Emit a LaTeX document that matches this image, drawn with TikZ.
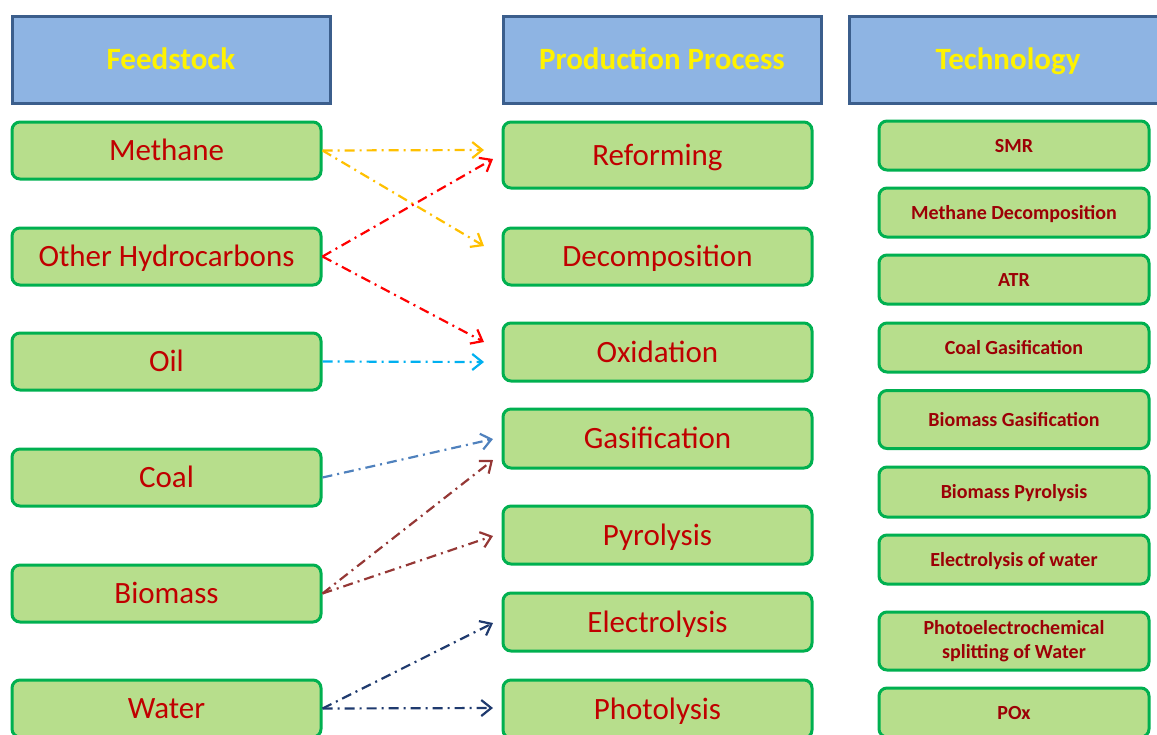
\documentclass[tikz,border=0pt]{standalone}
\usepackage{fontspec}
\setmainfont{Carlito}
\usetikzlibrary{arrows.meta}
\definecolor{hdrfill}{HTML}{8EB4E3}
\definecolor{hdrline}{HTML}{3B5E8C}
\definecolor{boxfill}{HTML}{B7DE8C}
\definecolor{boxline}{HTML}{00B050}
\definecolor{txtred}{HTML}{C00000}
\definecolor{techred}{HTML}{9C0006}
\definecolor{arrorange}{HTML}{FFC000}
\definecolor{arrred}{HTML}{FF0000}
\definecolor{arrcyan}{HTML}{00B0F0}
\definecolor{arrsteel}{HTML}{4F81BD}
\definecolor{arrbrown}{HTML}{953735}
\definecolor{arrnavy}{HTML}{1F3A6E}
\tikzset{
  header/.style={draw=hdrline, fill=hdrfill, line width=3pt, inner sep=0pt,
    minimum width=318pt, minimum height=87pt, text height=20pt, text depth=0pt,
    text=yellow, font=\fontsize{31}{36}\selectfont\bfseries},
  srcbox/.style={draw=boxline, fill=boxfill, line width=3pt, rounded corners=8pt,
    inner sep=0pt, minimum width=309pt, minimum height=57pt,
    text height=20pt, text depth=0pt,
    text=txtred, font=\fontsize{31}{36}\selectfont},
  techbox/.style={draw=boxline, fill=boxfill, line width=3pt, rounded corners=8pt,
    inner sep=0pt, minimum width=270pt, minimum height=49pt, align=center,
    text=techred, font=\fontsize{20}{24.5}\selectfont\bfseries},
  techline/.style={text height=13pt, text depth=0pt},
  link/.style={line width=2.2pt, dash pattern=on 10pt off 5pt on 2pt off 5pt,
    -{Straight Barb[length=10pt,width=16pt,line width=2.2pt]}},
}
\begin{document}
\begin{tikzpicture}[x=1pt,y=-1pt]
\useasboundingbox (0,0) rectangle (1157,734);
\clip (0,0) rectangle (1157,734);

% column headers
\node[header] (hfeed) at (171,59.5) {Feedstock};
\node[header] (hproc) at (662,59.5) {Production Process};
\node[header] (htech) at (1008,59.5) {Technology};

% feedstocks
\node[srcbox] (methane) at (166.5,150.5) {Methane};
\node[srcbox] (hydro)   at (166.5,256.5) {Other Hydrocarbons};
\node[srcbox] (oil)     at (166.5,361.5) {Oil};
\node[srcbox] (coal)    at (166.5,477.5) {Coal};
\node[srcbox] (biomass) at (166.5,593.5) {Biomass};
\node[srcbox] (water)   at (166.5,708.5) {Water};

% production processes
\node[srcbox, minimum height=66pt] (reform) at (657.5,155) {Reforming};
\node[srcbox] (decomp) at (657.5,256.5) {Decomposition};
\node[srcbox, minimum height=58pt] (oxid)   at (657.5,352) {Oxidation};
\node[srcbox, minimum height=59pt] (gasif)  at (657.5,438.5) {Gasification};
\node[srcbox, minimum height=58pt] (pyro)   at (657.5,535) {Pyrolysis};
\node[srcbox, minimum height=58pt] (elec)   at (657.5,622) {Electrolysis};
\node[srcbox, minimum height=58pt] (photo)  at (657.5,709) {Photolysis};

% technologies
\node[techbox, techline] (smr)   at (1014,145.5) {SMR};
\node[techbox, techline] (mdec)  at (1014,212.5) {Methane Decomposition};
\node[techbox, techline] (atr)   at (1014,279.5) {ATR};
\node[techbox, techline] (cgas)  at (1014,347.5) {Coal Gasification};
\node[techbox, techline, minimum height=58pt] (bgas)  at (1014,419.5) {Biomass Gasification};
\node[techbox, techline, minimum height=50pt] (bpyr)  at (1014,492) {Biomass Pyrolysis};
\node[techbox, techline] (ewat)  at (1014,559.5) {Electrolysis of water};
\node[techbox, minimum height=58pt] (pec)   at (1014,641) {Photoelectrochemical\\splitting of Water};
\node[techbox, techline] (pox)   at (1014,712.5) {POx};

% arrow tips in front of the process boxes
\coordinate (tRefA) at (484,150);
\coordinate (tRefB) at (493,159);
\coordinate (tDec)  at (484,246);
\coordinate (tOxA)  at (484,342);
\coordinate (tOxB)  at (484,362);
\coordinate (tGasA) at (493,439);
\coordinate (tGasB) at (493,460);
\coordinate (tPyr)  at (493,536);
\coordinate (tEle)  at (493,623);
\coordinate (tPho)  at (493,708);

% feedstock to process links
\draw[link, arrorange] (methane.east) -- (tRefA);
\draw[link, arrorange] (methane.east) -- (tDec);
\draw[link, arrred]    (hydro.east) -- (tRefB);
\draw[link, arrred]    (hydro.east) -- (tOxA);
\draw[link, arrcyan]   (oil.east) -- (tOxB);
\draw[link, arrsteel]  (coal.east) -- (tGasA);
\draw[link, arrbrown]  (biomass.east) -- (tGasB);
\draw[link, arrbrown]  (biomass.east) -- (tPyr);
\draw[link, arrnavy]   (water.east) -- (tEle);
\draw[link, arrnavy]   (water.east) -- (tPho);
\end{tikzpicture}
\end{document}
